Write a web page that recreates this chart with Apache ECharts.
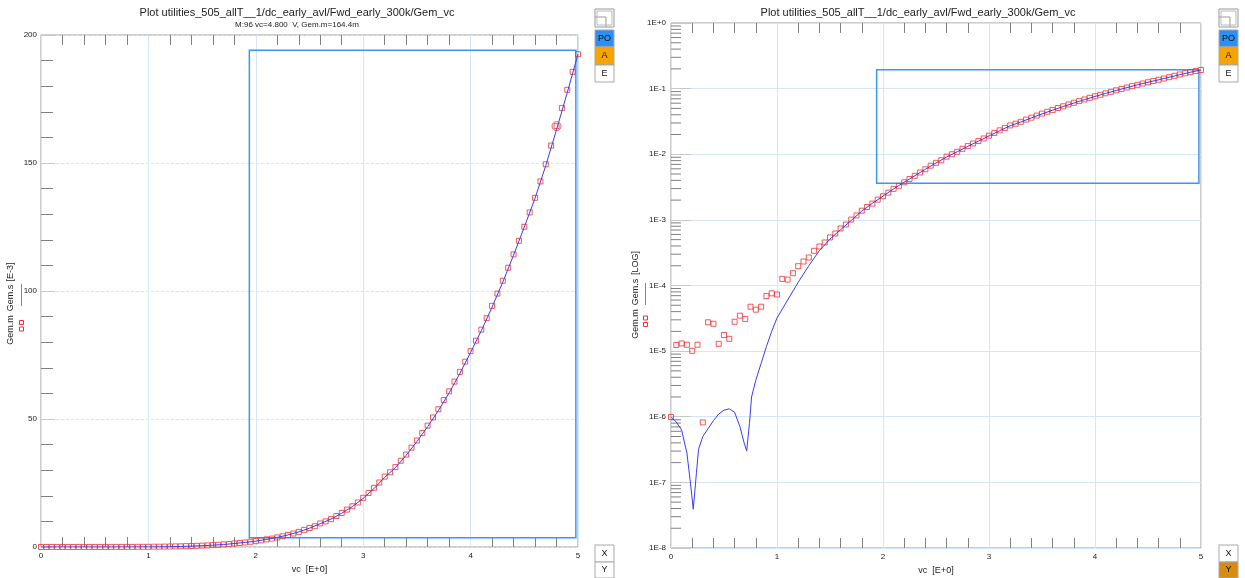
<!DOCTYPE html>
<html><head><meta charset="utf-8">
<script src="https://cdn.jsdelivr.net/npm/echarts@6/dist/echarts.min.js"></script>
<style>html,body{margin:0;padding:0;background:#fff;} #c{width:1245px;height:578px;}</style>
</head><body><div id="c"></div>
<script>
// ---- data ----
const vc = [0,0.05,0.1,0.15,0.2,0.25,0.3,0.35,0.4,0.45,
 0.5,0.55,0.6,0.65,0.7,0.75,0.8,0.85,0.9,0.95,
 1.0,1.05,1.1,1.15,1.2,1.25,1.3,1.35,1.4,1.45,
 1.5,1.55,1.6,1.65,1.7,1.75,1.8,1.85,1.9,1.95,
 2.0,2.05,2.1,2.15,2.2,2.25,2.3,2.35,2.4,2.45,
 2.5,2.55,2.6,2.65,2.7,2.75,2.8,2.85,2.9,2.95,
 3.0,3.05,3.1,3.15,3.2,3.25,3.3,3.35,3.4,3.45,
 3.5,3.55,3.6,3.65,3.7,3.75,3.8,3.85,3.9,3.95,
 4.0,4.05,4.1,4.15,4.2,4.25,4.3,4.35,4.4,4.45,
 4.5,4.55,4.6,4.65,4.7,4.75,4.8,4.85,4.9,4.95,
 5.0];
const gemM = [9.9e-7,1.24e-5,1.31e-5,1.25e-5,1.01e-5,1.25e-5,8.2e-7,2.75e-5,2.61e-5,1.29e-5,
 1.76e-5,1.54e-5,2.8e-5,3.47e-5,3.08e-5,4.75e-5,4.28e-5,4.75e-5,6.9e-5,7.6e-5,
 7.3e-5,1.26e-4,1.23e-4,1.54e-4,1.97e-4,2.32e-4,2.67e-4,3.38e-4,3.93e-4,4.53e-4,
 5.4e-4,6.2e-4,7.4e-4,8.5e-4,1.01e-3,1.17e-3,1.38e-3,1.57e-3,1.77e-3,2.04e-3,
 2.29e-3,2.6e-3,2.97e-3,3.3e-3,3.74e-3,4.2e-3,4.7e-3,5.27e-3,5.9e-3,6.7e-3,
 7.4e-3,8.1e-3,9.2e-3,1.0e-2,1.09e-2,1.21e-2,1.33e-2,1.46e-2,1.59e-2,1.74e-2,
 1.92e-2,2.11e-2,2.31e-2,2.52e-2,2.75e-2,2.92e-2,3.12e-2,3.37e-2,3.61e-2,3.88e-2,
 4.16e-2,4.45e-2,4.74e-2,5.06e-2,5.38e-2,5.74e-2,6.08e-2,6.46e-2,6.84e-2,7.24e-2,
 7.65e-2,8.06e-2,8.49e-2,8.94e-2,9.42e-2,9.90e-2,0.1040,0.1091,0.1143,0.1196,
 0.1251,0.1307,0.1364,0.1428,0.1495,0.1568,0.1644,0.1715,0.1786,0.1856,
 0.1925];
const simX = [0,0.05,0.1,0.15,0.18,0.21,0.24,0.26,0.3,0.35,0.4,0.45,0.5,0.55,0.6,0.65,0.69,0.714,0.74,0.76,
 0.8,0.85,0.9,0.95,1.0,1.1,1.2,1.3,1.4,1.5,1.6,1.7,1.8,1.9,2.0,2.1,2.2,2.3,2.4,2.5,
 2.6,2.7,2.8,2.9,3.0,3.1,3.2,3.3,3.4,3.5,3.6,3.7,3.8,3.9,4.0,4.1,4.2,4.3,4.4,4.5,4.6,4.7,4.8,4.9,5.0];
const simY = [1.0e-6,8.3e-7,6.3e-7,2.8e-7,1.1e-7,3.9e-8,1.4e-7,3.2e-7,5.0e-7,6.6e-7,
 8.7e-7,1.1e-6,1.26e-6,1.32e-6,1.17e-6,7.1e-7,4.0e-7,3.0e-7,7.9e-7,2.0e-6,
 3.6e-6,6.5e-6,1.17e-5,2.0e-5,3.2e-5,6.0e-5,1.12e-4,2.0e-4,3.4e-4,5.1e-4,
 7.1e-4,9.8e-4,1.36e-3,1.79e-3,2.3e-3,2.97e-3,3.75e-3,4.7e-3,5.9e-3,7.35e-3,
 9.1e-3,1.09e-2,1.32e-2,1.58e-2,1.9e-2,2.28e-2,2.72e-2,3.1e-2,3.58e-2,4.12e-2,
 4.7e-2,5.33e-2,6.02e-2,6.78e-2,7.6e-2,8.45e-2,9.37e-2,0.1035,0.114,0.125,
 0.1362,0.149,0.163,0.1775,0.1925];
const markerIndex = 96;
const selBox = [1.94, 4.98, 0.0036, 0.194]; // x0, x1, y0, y1
const xTickLabels = ['0','1','2','3','4','5'];
const linYTickLabels = ['0','50','100','150','200'];
const logYTickLabels = ['1E-8','1E-7','1E-6','1E-5','1E-4','1E-3','1E-2','1E-1','1E+0'];
const titleText = 'Plot utilities_505_allT__1/dc_early_avl/Fwd_early_300k/Gem_vc';
const subText = 'M:96 vc=4.800  V, Gem.m=164.4m';

// ---- chart ----
const FONT = '"Liberation Sans", Arial, sans-serif';
const RED = '#f03030', BLUE = '#3c3cf2', GRIDC = '#d3e7f7', TICKC = '#808080';
const logMinor = [];
for (let e = -8; e < 0; e++) for (let k = 2; k <= 9; k++) logMinor.push(k * Math.pow(10, e));

const mPts = vc.map((x, i) => [x, gemM[i]]);
const sPts = simX.map((x, i) => [x, simY[i]]);

function xAx(grid, pos, withLabel) {
  return {
    type: 'value', gridIndex: grid, position: pos, min: 0, max: 5, interval: 1,
    axisLine: {show: false},
    axisTick: {show: false, inside: true},
    minorTick: {show: true, splitNumber: 5, length: 10, lineStyle: {color: TICKC, width: 1}},
    splitLine: {show: withLabel, lineStyle: {color: GRIDC, width: 1}},
    axisLabel: withLabel ? {show: true, fontSize: 8, color: '#222', fontFamily: FONT, margin: 5,
      formatter: v => xTickLabels[Math.round(v)]} : {show: false},
    name: withLabel ? 'vc  [E+0]' : '', nameLocation: 'middle', nameGap: 15,
    nameTextStyle: {fontSize: 9, color: '#222', fontFamily: FONT}
  };
}
const boxArea = {
  silent: true,
  itemStyle: {color: 'rgba(0,0,0,0)', borderColor: '#3d98ec', borderWidth: 1.5},
  data: [[{coord: [selBox[0], selBox[3]]}, {coord: [selBox[1], selBox[2]]}]]
};

function btnGroup(x, w) {
  const el = [];
  const r = (y, h, fill) => ({type: 'rect', shape: {x: x, y: y, width: w, height: h},
    style: {fill: fill, stroke: '#a8a8a8', lineWidth: 1}});
  const t = (y, s) => ({type: 'text', x: x + w / 2, y: y, style: {text: s, fill: '#111', font: '9px ' + FONT, textAlign: 'center', textVerticalAlign: 'middle'}});
  return el;
}
function panelButtons(x, yFill) {
  const w = 19;
  const el = [];
  el.push({type: 'rect', shape: {x: x, y: 9, width: w, height: 18}, style: {fill: '#fff', stroke: '#999', lineWidth: 1}});
  el.push({type: 'polyline', shape: {points: [[x, 17], [x + 11, 17], [x + 11, 27]]}, style: {fill: null, stroke: '#999', lineWidth: 1}});
  el.push({type: 'rect', shape: {x: x + 2, y: 11, width: w - 4, height: 14}, style: {fill: null, stroke: '#bbb', lineWidth: 1}});
  const btns = [[30, 17, '#2d8ff0', 'PO'], [47, 18, '#f7a400', 'A'], [65, 17, '#fff', 'E'], [545, 17, '#fff', 'X'], [562, 16, yFill, 'Y']];
  btns.forEach(b => {
    el.push({type: 'rect', shape: {x: x, y: b[0], width: w, height: b[1]}, style: {fill: b[2], stroke: '#a8a8a8', lineWidth: 1}});
    el.push({type: 'text', x: x + w / 2, y: b[0] + b[1] / 2, style: {text: b[3], fill: '#111', font: '9px ' + FONT, textAlign: 'center', textVerticalAlign: 'middle'}});
  });
  return el;
}
function yName(x, parts, lineX, lineY0, lineY1, sq) {
  const el = [];
  parts.forEach(p => el.push({type: 'text', x: x, y: p[1], rotation: Math.PI / 2,
    style: {text: p[0], fill: '#222', font: '9px ' + FONT, textAlign: 'center', textVerticalAlign: 'middle'}}));
  el.push({type: 'line', shape: {x1: lineX, y1: lineY0, x2: lineX, y2: lineY1}, style: {stroke: '#7a7af5', lineWidth: 1}});
  sq.forEach(y => el.push({type: 'rect', shape: {x: lineX - 2, y: y - 2, width: 4, height: 4}, style: {fill: null, stroke: RED, lineWidth: 1}}));
  return el;
}

const graphic = [].concat(
  [{type: 'text', x: 297, y: 13, style: {text: titleText, fill: '#222', font: '11px ' + FONT, textAlign: 'center', textVerticalAlign: 'middle'}},
   {type: 'text', x: 297, y: 25, style: {text: subText, fill: '#222', font: '8px ' + FONT, textAlign: 'center', textVerticalAlign: 'middle'}},
   {type: 'text', x: 918, y: 13, style: {text: titleText, fill: '#222', font: '11px ' + FONT, textAlign: 'center', textVerticalAlign: 'middle'}}],
  yName(11, [['Gem.m', 330], ['Gem.s', 298], ['[E-3]', 272]], 21.5, 284, 306, [322.5, 329]),
  yName(636, [['Gem.m', 324], ['Gem.s', 292], ['[LOG]', 263]], 645.5, 283, 305, [318, 324.5]),
  panelButtons(595, '#fff'),
  panelButtons(1219, '#d98b10')
);

const option = {
  animation: false,
  backgroundColor: '#fff',
  textStyle: {fontFamily: FONT},
  grid: [
    {left: 41, top: 35, width: 537, height: 512, show: true, borderColor: '#9a9a9a', borderWidth: 1, backgroundColor: 'transparent', outerBoundsMode: 'none', containLabel: false},
    {left: 671, top: 23, width: 530, height: 525, show: true, borderColor: '#9a9a9a', borderWidth: 1, backgroundColor: 'transparent', outerBoundsMode: 'none', containLabel: false}
  ],
  xAxis: [xAx(0, 'bottom', true), xAx(0, 'top', false), xAx(1, 'bottom', true), xAx(1, 'top', false)],
  yAxis: [
    {type: 'value', gridIndex: 0, min: 0, max: 0.2, interval: 0.05,
     axisLine: {show: false},
     axisTick: {show: true, inside: true, length: 14, lineStyle: {color: '#c8c8c8'}},
     minorTick: {show: true, splitNumber: 5, length: 12, lineStyle: {color: TICKC}},
     splitLine: {show: true, lineStyle: {color: GRIDC, type: [3, 2]}},
     axisLabel: {fontSize: 8, color: '#222', fontFamily: FONT, margin: 4,
       formatter: v => linYTickLabels[Math.round(v / 0.05)]}},
    {type: 'log', gridIndex: 1, min: 1e-8, max: 1, logBase: 10, splitNumber: 8,
     axisLine: {show: false},
     axisTick: {show: true, inside: true, length: 20, lineStyle: {color: '#c8c8c8'}},
     minorTick: {show: false},
     splitLine: {show: true, lineStyle: {color: GRIDC}},
     axisLabel: {fontSize: 8, color: '#222', fontFamily: FONT, margin: 5,
       formatter: v => logYTickLabels[Math.round(Math.log10(v)) + 8]}}
  ],
  graphic: graphic,
  series: [
    {type: 'scatter', xAxisIndex: 0, yAxisIndex: 0, data: mPts, symbol: 'rect', symbolSize: 5,
     itemStyle: {color: 'rgba(0,0,0,0)', borderColor: RED, borderWidth: 1}, z: 3, clip: false},
    {type: 'line', xAxisIndex: 0, yAxisIndex: 0, data: sPts, showSymbol: false, symbol: 'none',
     lineStyle: {color: BLUE, width: 1}, z: 4, markArea: boxArea},
    {type: 'scatter', xAxisIndex: 0, yAxisIndex: 0, data: [[vc[markerIndex], gemM[markerIndex]]], symbol: 'circle', symbolSize: 9,
     itemStyle: {color: 'rgba(0,0,0,0)', borderColor: RED, borderWidth: 1}, z: 5},
    {type: 'scatter', xAxisIndex: 2, yAxisIndex: 1, data: mPts, symbol: 'rect', symbolSize: 5,
     itemStyle: {color: 'rgba(0,0,0,0)', borderColor: RED, borderWidth: 1}, z: 3},
    {type: 'line', xAxisIndex: 2, yAxisIndex: 1, data: sPts, showSymbol: false, symbol: 'none',
     lineStyle: {color: BLUE, width: 1}, z: 4, markArea: boxArea},
    {type: 'custom', xAxisIndex: 2, yAxisIndex: 1, silent: true, clip: false, z: 2,
     data: logMinor.map(v => [0, v]),
     renderItem: (params, api) => {
       const p = api.coord([0, api.value(1)]);
       return {type: 'line', shape: {x1: p[0], y1: p[1], x2: p[0] + 10, y2: p[1]},
         style: {stroke: TICKC, lineWidth: 1}};
     }}
  ]
};
const chart = echarts.init(document.getElementById('c'), null, {renderer: 'canvas'});
chart.setOption(option);
</script></body></html>
